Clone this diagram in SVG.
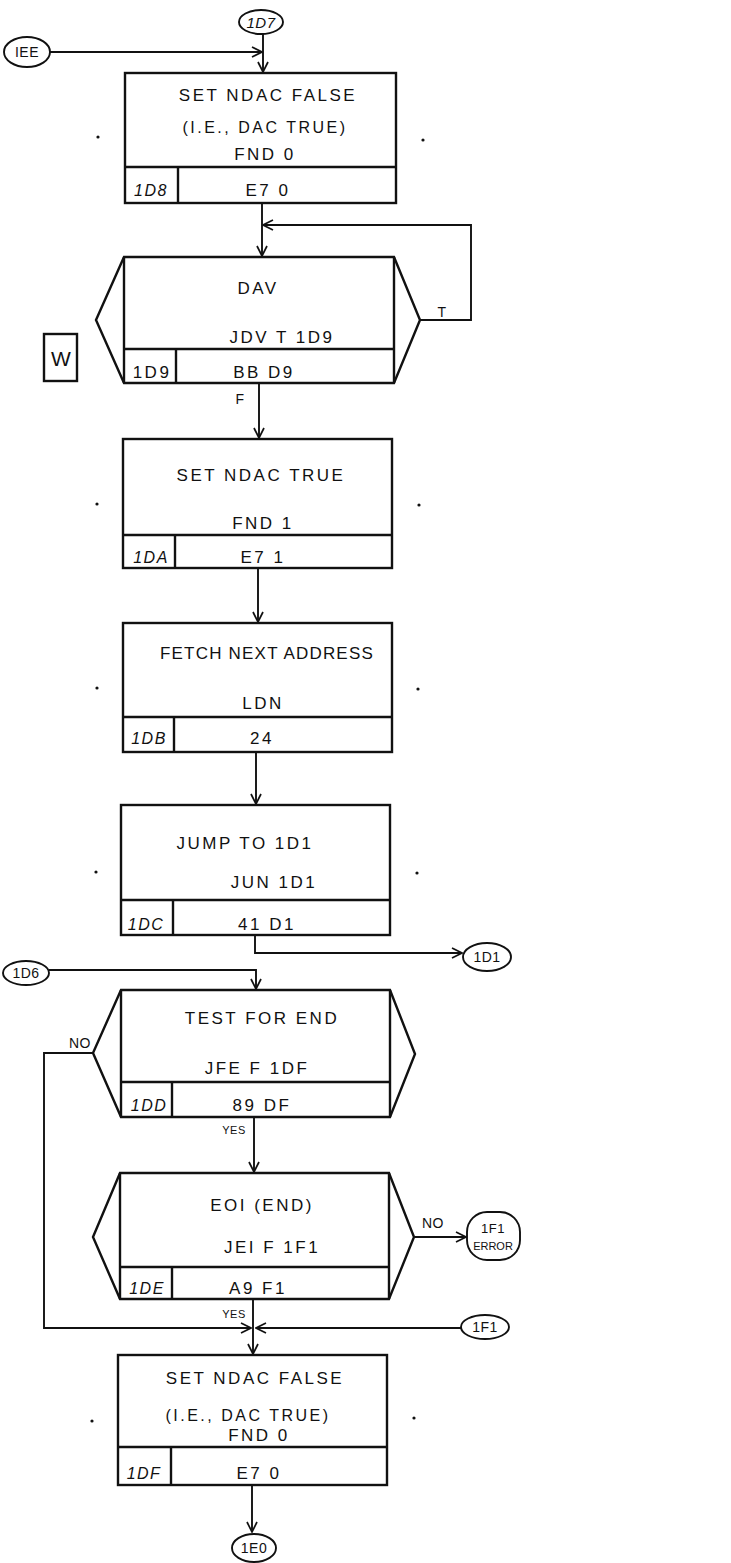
<svg xmlns="http://www.w3.org/2000/svg" width="731" height="1563" viewBox="0 0 731 1563">
<style>
.bx{fill:none;stroke:#111;stroke-width:2.4}
.ln{fill:none;stroke:#111;stroke-width:1.9}
.cn{fill:none;stroke:#111;stroke-width:1.9}
.t{font-family:"Liberation Sans",Arial,sans-serif;font-size:17px;fill:#111;text-anchor:middle;letter-spacing:2.5px}
.s{font-family:"Liberation Sans",Arial,sans-serif;font-size:14px;fill:#111;text-anchor:middle;letter-spacing:0.5px}
.a{font-family:"Liberation Sans",Arial,sans-serif;font-size:16px;font-style:italic;fill:#111;text-anchor:middle;letter-spacing:1.5px}
.d{fill:#111}
</style>
<defs>
<marker id="ar" viewBox="0 0 12 12" refX="11" refY="6" markerWidth="12" markerHeight="12" markerUnits="userSpaceOnUse" orient="auto">
<path d="M1,1 L11,6 L1,11" fill="none" stroke="#111" stroke-width="1.7"/>
</marker>
</defs>
<rect width="731" height="1563" fill="#fff"/>

<g id="connectors">
<path class="ln" d="M50,52 H262" marker-end="url(#ar)"/>
<path class="ln" d="M263,34 V72" marker-end="url(#ar)"/>
<path class="ln" d="M262,203 V256" marker-end="url(#ar)"/>
<path class="ln" d="M420,320 H471 V225 H263" marker-end="url(#ar)"/>
<path class="ln" d="M259,383 V438" marker-end="url(#ar)"/>
<path class="ln" d="M258,568 V622" marker-end="url(#ar)"/>
<path class="ln" d="M256,752 V804" marker-end="url(#ar)"/>
<path class="ln" d="M255,935 V953 H462" marker-end="url(#ar)"/>
<path class="ln" d="M49,970 H256 V989" marker-end="url(#ar)"/>
<path class="ln" d="M93,1053 H44 V1328 H251" marker-end="url(#ar)"/>
<path class="ln" d="M254,1117 V1172" marker-end="url(#ar)"/>
<path class="ln" d="M414,1237 H466" marker-end="url(#ar)"/>
<path class="ln" d="M253,1299 V1354" marker-end="url(#ar)"/>
<path class="ln" d="M462,1328 H256" marker-end="url(#ar)"/>
<path class="ln" d="M252,1485 V1532" marker-end="url(#ar)"/>
<text class="s" x="442" y="317">T</text>
<text class="s" x="240" y="404">F</text>
<text class="s" x="80" y="1048">NO</text>
<text class="s" x="234" y="1134" style="font-size:11px">YES</text>
<text class="s" x="433" y="1228">NO</text>
<text class="s" x="234" y="1318" style="font-size:11px">YES</text>
</g>

<g id="n-IEE">
<ellipse class="cn" cx="27" cy="52" rx="23" ry="15"/>
<text class="s" x="27" y="57">IEE</text>
</g>
<g id="n-1D7">
<ellipse class="cn" cx="261" cy="22" rx="22" ry="12"/>
<text class="a" x="261" y="28" style="font-size:15px;letter-spacing:0.5px">1D7</text>
</g>

<g id="n-1D8">
<rect class="bx" x="125" y="73" width="271" height="130"/>
<line class="bx" x1="125" y1="167" x2="396" y2="167"/>
<line class="bx" x1="178" y1="167" x2="178" y2="203"/>
<text class="t" x="268" y="101">SET NDAC FALSE</text>
<text class="t" x="265" y="133" style="font-size:16px">(I.E., DAC TRUE)</text>
<text class="t" x="265" y="160">FND 0</text>
<text class="a" x="151" y="196">1D8</text>
<text class="t" x="268" y="196">E7 0</text>
<circle class="d" cx="98" cy="137" r="1.6"/>
<circle class="d" cx="423" cy="140" r="1.6"/>
</g>

<g id="n-1D9">
<path class="bx" d="M124,257 H394 L420,320 L394,383 H124 L96,320 Z"/>
<line class="bx" x1="124" y1="257" x2="124" y2="383"/>
<line class="bx" x1="394" y1="257" x2="394" y2="383"/>
<line class="bx" x1="124" y1="349" x2="394" y2="349"/>
<line class="bx" x1="176" y1="349" x2="176" y2="383"/>
<text class="t" x="258" y="294">DAV</text>
<text class="t" x="282" y="343">JDV T 1D9</text>
<text class="t" x="152" y="378">1D9</text>
<text class="t" x="264" y="378">BB D9</text>
</g>

<g id="n-W">
<rect class="bx" x="44" y="334" width="33" height="47"/>
<text class="t" x="61" y="366" style="font-size:21px;letter-spacing:0">W</text>
</g>

<g id="n-1DA">
<rect class="bx" x="123" y="439" width="269" height="129"/>
<line class="bx" x1="123" y1="535" x2="392" y2="535"/>
<line class="bx" x1="175" y1="535" x2="175" y2="568"/>
<text class="t" x="261" y="481">SET NDAC TRUE</text>
<text class="t" x="263" y="529">FND 1</text>
<text class="a" x="151" y="563">1DA</text>
<text class="t" x="263" y="563">E7 1</text>
<circle class="d" cx="97" cy="504" r="1.6"/>
<circle class="d" cx="419" cy="505" r="1.6"/>
</g>

<g id="n-1DB">
<rect class="bx" x="123" y="623" width="269" height="129"/>
<line class="bx" x1="123" y1="717" x2="392" y2="717"/>
<line class="bx" x1="174" y1="717" x2="174" y2="752"/>
<text class="t" x="267" y="659" style="letter-spacing:1.2px">FETCH NEXT ADDRESS</text>
<text class="t" x="263" y="709">LDN</text>
<text class="a" x="149" y="744">1DB</text>
<text class="t" x="262" y="744">24</text>
<circle class="d" cx="97" cy="688" r="1.6"/>
<circle class="d" cx="418" cy="689" r="1.6"/>
</g>

<g id="n-1DC">
<rect class="bx" x="121" y="805" width="269" height="130"/>
<line class="bx" x1="121" y1="900" x2="390" y2="900"/>
<line class="bx" x1="173" y1="900" x2="173" y2="935"/>
<text class="t" x="245" y="849">JUMP TO 1D1</text>
<text class="t" x="274" y="888">JUN 1D1</text>
<text class="a" x="146" y="930">1DC</text>
<text class="t" x="267" y="930">41 D1</text>
<circle class="d" cx="96" cy="872" r="1.6"/>
<circle class="d" cx="417" cy="873" r="1.6"/>
</g>

<g id="n-1D1">
<ellipse class="cn" cx="487" cy="957" rx="24" ry="14"/>
<text class="s" x="487" y="962">1D1</text>
</g>
<g id="n-1D6">
<ellipse class="cn" cx="26" cy="973" rx="23" ry="12"/>
<text class="s" x="26" y="978">1D6</text>
</g>

<g id="n-1DD">
<path class="bx" d="M121,990 H390 L415,1054 L390,1117 H121 L93,1053 Z"/>
<line class="bx" x1="121" y1="990" x2="121" y2="1117"/>
<line class="bx" x1="390" y1="990" x2="390" y2="1117"/>
<line class="bx" x1="121" y1="1082" x2="390" y2="1082"/>
<line class="bx" x1="172" y1="1082" x2="172" y2="1117"/>
<text class="t" x="262" y="1024">TEST FOR END</text>
<text class="t" x="257" y="1074">JFE F 1DF</text>
<text class="a" x="149" y="1111">1DD</text>
<text class="t" x="262" y="1111">89 DF</text>
</g>

<g id="n-1DE">
<path class="bx" d="M120,1173 H389 L414,1237 L389,1299 H120 L93,1237 Z"/>
<line class="bx" x1="120" y1="1173" x2="120" y2="1299"/>
<line class="bx" x1="389" y1="1173" x2="389" y2="1299"/>
<line class="bx" x1="120" y1="1267" x2="389" y2="1267"/>
<line class="bx" x1="172" y1="1267" x2="172" y2="1299"/>
<text class="t" x="262" y="1211">EOI (END)</text>
<text class="t" x="272" y="1253">JEI F 1F1</text>
<text class="a" x="147" y="1294">1DE</text>
<text class="t" x="258" y="1294">A9 F1</text>
</g>

<g id="n-1F1-error">
<rect class="cn" x="467" y="1212" width="53" height="48" rx="20" ry="20"/>
<text class="s" x="493" y="1233" style="font-size:13px">1F1</text>
<text class="s" x="493" y="1250" style="font-size:11px;letter-spacing:0">ERROR</text>
</g>

<g id="n-1F1">
<ellipse class="cn" cx="485" cy="1327" rx="24" ry="12"/>
<text class="s" x="485" y="1332">1F1</text>
</g>

<g id="n-1DF">
<rect class="bx" x="118" y="1355" width="269" height="130"/>
<line class="bx" x1="118" y1="1447" x2="387" y2="1447"/>
<line class="bx" x1="171" y1="1447" x2="171" y2="1485"/>
<text class="t" x="255" y="1384">SET NDAC FALSE</text>
<text class="t" x="248" y="1421" style="font-size:16px">(I.E., DAC TRUE)</text>
<text class="t" x="259" y="1441">FND 0</text>
<text class="a" x="144" y="1479">1DF</text>
<text class="t" x="259" y="1479">E7 0</text>
<circle class="d" cx="92" cy="1421" r="1.6"/>
<circle class="d" cx="414" cy="1418" r="1.6"/>
</g>

<g id="n-1E0">
<ellipse class="cn" cx="254" cy="1548" rx="22" ry="14"/>
<text class="s" x="254" y="1553">1E0</text>
</g>
</svg>
